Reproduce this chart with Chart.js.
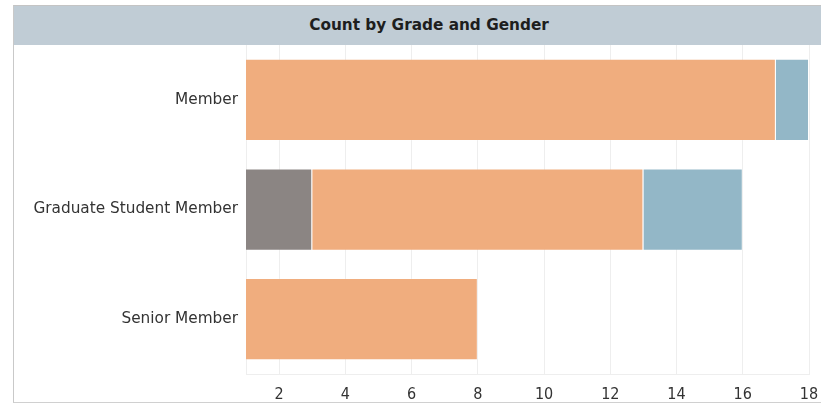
<!DOCTYPE html>
<html>
<head>
<meta charset="utf-8">
<script src="https://cdn.jsdelivr.net/npm/chart.js@4"></script>
<style>
  html, body { margin: 0; padding: 0; background: #ffffff; }
  body { width: 821px; height: 404px; position: relative; overflow: hidden; }
  #frame { position: absolute; left: 13px; top: 5px; width: 820px; height: 396px;
           border-left: 1px solid #c9c9c9; border-top: 1px solid #c4c4c4; border-bottom: 1px solid #d0d0d0; }
  #header { position: absolute; left: 0; top: 0; width: 100%; height: 39px; background: #c0ccd5; }
  #title { position: absolute; left: 0; width: 830px; top: 0; height: 39px; line-height: 39px; text-align: center;
           font-family: "DejaVu Sans", sans-serif;
           font-weight: bold; font-size: 15.3px; color: #1e1e1e; }
  #wrap { position: absolute; left: 14px; top: 45px; width: 807px; height: 357px; }
</style>
</head>
<body>
<div id="frame"><div id="header"></div><div id="title">Count by Grade and Gender</div></div>
<div id="wrap"><canvas id="c"></canvas></div>
<script>
const categories = ["Member", "Graduate Student Member", "Senior Member"];
const seriesNames = ["Unknown", "Female", "Male"];
const unknownCounts = [0, 3, 0];
const femaleCounts = [17, 10, 8];
const maleCounts = [1, 3, 0];
const xTickValues = [2, 4, 6, 8, 10, 12, 14, 16, 18];

const ctx = document.getElementById('c');
new Chart(ctx, {
  type: 'bar',
  data: {
    labels: categories,
    datasets: [
      { label: seriesNames[0], data: unknownCounts, backgroundColor: '#8b8583', borderColor: 'rgba(255,255,255,0.12)', borderWidth: 1 },
      { label: seriesNames[1], data: femaleCounts, backgroundColor: '#f0ad7e', borderColor: 'rgba(255,255,255,0.12)', borderWidth: 1 },
      { label: seriesNames[2], data: maleCounts, backgroundColor: '#93b7c7', borderColor: 'rgba(255,255,255,0.12)', borderWidth: 1 }
    ]
  },
  options: {
    indexAxis: 'y',
    responsive: true,
    maintainAspectRatio: false,
    animation: false,
    barPercentage: 0.75,
    categoryPercentage: 1.0,
    layout: { padding: { top: 0, right: 12, bottom: 0, left: 0 } },
    plugins: { legend: { display: false }, title: { display: false }, tooltip: { enabled: false } },
    scales: {
      x: {
        stacked: true,
        min: 1,
        max: 18,
        afterBuildTicks: (scale) => { scale.ticks = xTickValues.map(v => ({ value: v })); },
        afterFit: (scale) => { scale.height = 28; scale.paddingLeft = 0; scale.paddingRight = 0; },
        grid: { color: '#eeeeee', drawTicks: false },
        border: { display: true, color: '#eeeeee' },
        ticks: { padding: 11, color: '#333333',
                 font: { family: '"Liberation Sans Narrow", "DejaVu Sans Condensed", sans-serif', size: 16 } }
      },
      y: {
        stacked: true,
        afterFit: (scale) => { scale.width = 232; scale.paddingTop = 0; scale.paddingBottom = 0; },
        grid: { display: false, drawTicks: false },
        border: { display: true, color: '#eeeeee' },
        ticks: { padding: 8, color: '#333333',
                 font: { family: '"DejaVu Sans", sans-serif', size: 15.3 } }
      }
    }
  }
});
</script>
</body>
</html>
